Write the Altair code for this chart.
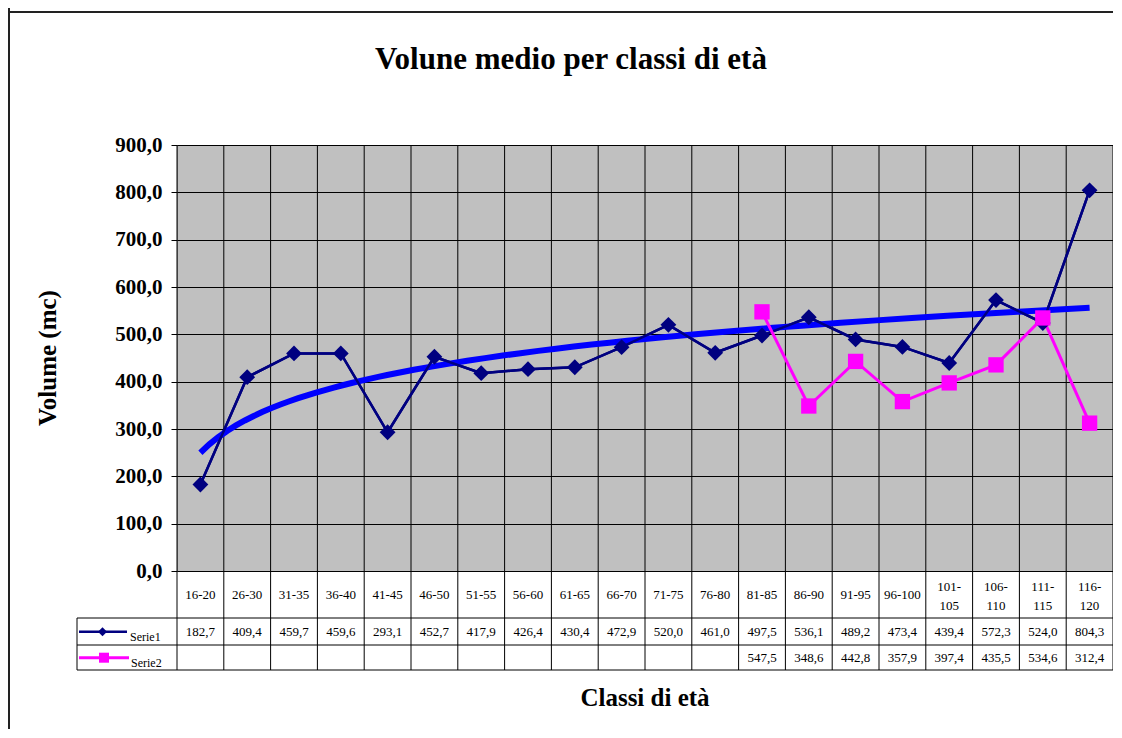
import altair as alt
import pandas as pd

# ---------------- data ----------------
categories = ["16-20", "26-30", "31-35", "36-40", "41-45", "46-50", "51-55", "56-60",
              "61-65", "66-70", "71-75", "76-80", "81-85", "86-90", "91-95", "96-100",
              "101-105", "106-110", "111-115", "116-120"]
serie1 = [182.7, 409.4, 459.7, 459.6, 293.1, 452.7, 417.9, 426.4, 430.4, 472.9,
          520.0, 461.0, 497.5, 536.1, 489.2, 473.4, 439.4, 572.3, 524.0, 804.3]
serie2 = [None, None, None, None, None, None, None, None, None, None, None, None,
          547.5, 348.6, 442.8, 357.9, 397.4, 435.5, 534.6, 312.4]
series_names = ["Serie1", "Serie2"]
y_ticks = [0, 100, 200, 300, 400, 500, 600, 700, 800, 900]
chart_title = "Volune medio per classi di età"
y_title = "Volume (mc)"
x_title = "Classi di età"

# ---------------- layout ----------------
W, H = 936, 426
FONT = "Liberation Serif"
NAVY = "#000080"
MAGENTA = "#FF00FF"
TREND = "#0000FF"
ROW1, ROW2, ROW3 = 473, 500, 525   # table horizontal lines (relative to plot top)
LEG_X = -100

n = len(categories)
rows = []
for k, (c, a, b) in enumerate(zip(categories, serie1, serie2), start=1):
    rows.append({"i": k, "cat": c, "series": series_names[0], "v": a})
    rows.append({"i": k, "cat": c, "series": series_names[1], "v": b})
df = pd.DataFrame(rows)
cat_df = pd.DataFrame({"i": list(range(1, n + 1)), "cat": categories})
bounds_df = pd.DataFrame({"b": [k + 0.5 for k in range(0, n + 1)]})
one = pd.DataFrame({"k": [0]})

xscale = alt.Scale(domain=[0.5, n + 0.5], nice=False, zero=False)
yscale = alt.Scale(domain=[0, 900], nice=False, zero=True)
X = alt.X("i:Q", scale=xscale, axis=None)
Y = alt.Y("v:Q", scale=yscale, title=None,
          axis=alt.Axis(values=y_ticks,
                        labelExpr="replace(format(datum.value, '.1f'), '.', ',')",
                        grid=True, gridColor="black", gridWidth=1, gridOpacity=1,
                        domain=False, ticks=True, tickColor="black", tickSize=6,
                        labelFont=FONT, labelFontSize=21, labelFontWeight="bold",
                        labelColor="black", labelPadding=9))

s1_filter = f"datum.series == '{series_names[0]}' && isValid(datum.v)"
s2_filter = f"datum.series == '{series_names[1]}' && isValid(datum.v)"

# vertical grid / table column lines
vlines = alt.Chart(bounds_df).mark_rule(color="black", strokeWidth=1).encode(
    x=alt.X("b:Q", scale=xscale, axis=None), y=alt.value(0), y2=alt.value(ROW3))

# table horizontal lines
hl = []
for yy in (ROW1, ROW2, ROW3):
    hl.append(alt.Chart(one).mark_rule(color="black", strokeWidth=1).encode(
        x=alt.value(LEG_X), x2=alt.value(W), y=alt.value(yy)))
leg_left = alt.Chart(one).mark_rule(color="black", strokeWidth=1).encode(
    x=alt.value(LEG_X), y=alt.value(ROW1), y2=alt.value(ROW3))

# chart outer border (top and left visible)
border_top = alt.Chart(one).mark_rule(color="#222222", strokeWidth=2).encode(
    x=alt.value(-175), x2=alt.value(W + 5), y=alt.value(-133))
border_left = alt.Chart(one).mark_rule(color="#222222", strokeWidth=2).encode(
    x=alt.value(-168), y=alt.value(-140), y2=alt.value(640))

trend = alt.Chart(df).transform_filter(s1_filter).transform_regression(
    "i", "v", method="log", extent=[1, n]
).mark_line(color=TREND, strokeWidth=6).encode(x=X, y=Y)

s1_line = alt.Chart(df).transform_filter(s1_filter).mark_line(
    color=NAVY, strokeWidth=2.5).encode(x=X, y=Y)
s1_pts = alt.Chart(df).transform_filter(s1_filter).mark_point(
    shape="diamond", filled=True, size=250, color=NAVY, opacity=1).encode(x=X, y=Y)
s2_line = alt.Chart(df).transform_filter(s2_filter).mark_line(
    color=MAGENTA, strokeWidth=3).encode(x=X, y=Y)
s2_pts = alt.Chart(df).transform_filter(s2_filter).mark_point(
    shape="square", filled=True, size=235, color=MAGENTA, opacity=1).encode(x=X, y=Y)

# table texts: category labels (long ones wrap after the hyphen)
cat_single = alt.Chart(cat_df).transform_filter("length(datum.cat) <= 6").mark_text(
    font=FONT, fontSize=13, baseline="middle", color="black").encode(
    x=X, y=alt.value(450), text="cat:N")
cat_l1 = alt.Chart(cat_df).transform_filter("length(datum.cat) > 6").transform_calculate(
    lab="slice(datum.cat, 0, indexof(datum.cat, '-') + 1)"
).mark_text(font=FONT, fontSize=13, baseline="middle", color="black").encode(
    x=X, y=alt.value(441.5), text="lab:N")
cat_l2 = alt.Chart(cat_df).transform_filter("length(datum.cat) > 6").transform_calculate(
    lab="slice(datum.cat, indexof(datum.cat, '-') + 1)"
).mark_text(font=FONT, fontSize=13, baseline="middle", color="black").encode(
    x=X, y=alt.value(460.5), text="lab:N")

fmt = "replace(format(datum.v, '.1f'), '.', ',')"
val1 = alt.Chart(df).transform_filter(s1_filter).transform_calculate(t=fmt).mark_text(
    font=FONT, fontSize=13, baseline="middle", color="black").encode(
    x=X, y=alt.value(486.5), text="t:N")
val2 = alt.Chart(df).transform_filter(s2_filter).transform_calculate(t=fmt).mark_text(
    font=FONT, fontSize=13, baseline="middle", color="black").encode(
    x=X, y=alt.value(512.5), text="t:N")

# legend keys inside the table
leg_df1 = pd.DataFrame({"s": [series_names[0]]})
leg_df2 = pd.DataFrame({"s": [series_names[1]]})
leg1_rule = alt.Chart(leg_df1).mark_rule(color=NAVY, strokeWidth=2.5).encode(
    x=alt.value(-98), x2=alt.value(-50), y=alt.value(486.7))
leg1_pt = alt.Chart(leg_df1).mark_point(shape="diamond", filled=True, size=80,
                                        color=NAVY, opacity=1).encode(
    x=alt.value(-74.5), y=alt.value(486.7))
leg1_txt = alt.Chart(leg_df1).mark_text(font=FONT, fontSize=12, align="left",
                                        baseline="alphabetic", color="black").encode(
    x=alt.value(-47), y=alt.value(495.5), text="s:N")
leg2_rule = alt.Chart(leg_df2).mark_rule(color=MAGENTA, strokeWidth=3).encode(
    x=alt.value(-98), x2=alt.value(-48), y=alt.value(512.7))
leg2_pt = alt.Chart(leg_df2).mark_point(shape="square", filled=True, size=100,
                                        color=MAGENTA, opacity=1).encode(
    x=alt.value(-73), y=alt.value(512.7))
leg2_txt = alt.Chart(leg_df2).mark_text(font=FONT, fontSize=12, align="left",
                                        baseline="alphabetic", color="black").encode(
    x=alt.value(-46), y=alt.value(521.7), text="s:N")

# titles
title_txt = alt.Chart(pd.DataFrame({"t": [chart_title]})).mark_text(
    font=FONT, fontSize=31, fontWeight="bold", align="center", baseline="alphabetic",
    color="black").encode(x=alt.value(394), y=alt.value(-76), text="t:N")
ytitle_txt = alt.Chart(pd.DataFrame({"t": [y_title]})).mark_text(
    font=FONT, fontSize=25, fontWeight="bold", align="center", baseline="middle",
    angle=270, color="black").encode(x=alt.value(-129), y=alt.value(213), text="t:N")
xtitle_txt = alt.Chart(pd.DataFrame({"t": [x_title]})).mark_text(
    font=FONT, fontSize=25, fontWeight="bold", align="center", baseline="alphabetic",
    color="black").encode(x=alt.value(468), y=alt.value(561), text="t:N")

chart = alt.layer(
    s1_line, vlines, *hl, leg_left, border_top, border_left,
    trend, s1_line, s2_line, s1_pts, s2_pts,
    cat_single, cat_l1, cat_l2, val1, val2,
    leg1_rule, leg1_pt, leg1_txt, leg2_rule, leg2_pt, leg2_txt,
    title_txt, ytitle_txt, xtitle_txt,
).properties(
    width=W, height=H,
    autosize=alt.AutoSizeParams(type="none"),
    padding={"left": 169, "top": 137, "right": 0, "bottom": 158},
    background="white",
).configure_view(
    fill="#C0C0C0", stroke="#808080", strokeWidth=1
)

chart.save("out.html", embed_options={"renderer": "svg", "actions": False})
